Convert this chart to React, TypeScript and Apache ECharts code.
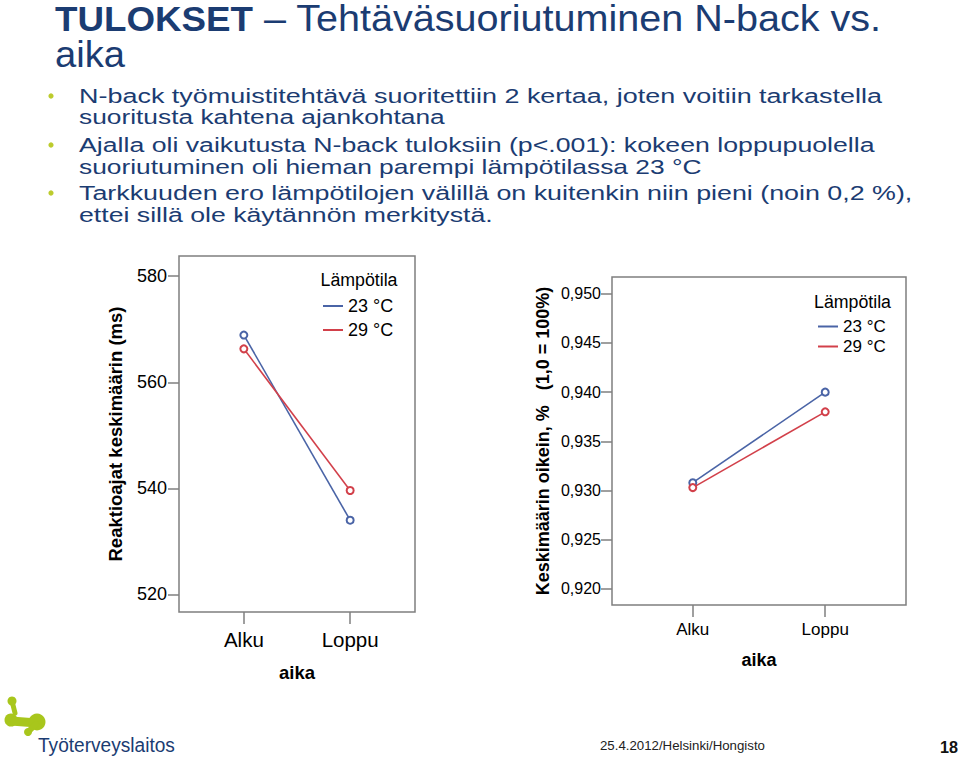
import React, { useEffect, useRef } from 'react';
import * as echarts from 'echarts';

// ---------- data ----------
const categories = ['Alku', 'Loppu'];
const groupNames = ['23 °C', '29 °C'];
const reaction23 = [568.9, 534.0];
const reaction29 = [566.3, 539.6];
const accuracy23 = [0.9308, 0.94];
const accuracy29 = [0.9303, 0.938];
const reactionTicks = [520, 540, 560, 580];
const accuracyTicks = [0.92, 0.925, 0.93, 0.935, 0.94, 0.945, 0.95];
const legendTitle = 'Lämpötila';
const xName = 'aika';
const reactionName = 'Reaktioajat keskimäärin (ms)';
const accuracyName = 'Keskimäärin oikein, %\u00a0\u00a0 (1,0 = 100%)';
const titleBold = 'TULOKSET';
const titleRest = ' – Tehtäväsuoriutuminen N-back vs.';
const titleLine2 = 'aika';
const bulletLines = [
  ['N-back työmuistitehtävä suoritettiin 2 kertaa, joten voitiin tarkastella', 'suoritusta kahtena ajankohtana'],
  ['Ajalla oli vaikutusta N-back tuloksiin (p<.001): kokeen loppupuolella', 'suoriutuminen oli hieman parempi lämpötilassa 23 °C'],
  ['Tarkkuuden ero lämpötilojen välillä on kuitenkin niin pieni (noin 0,2 %),', 'ettei sillä ole käytännön merkitystä.'],
];
const orgName = 'Työterveyslaitos';
const footerText = '25.4.2012/Helsinki/Hongisto';
const pageNumber = '18';

// ---------- layout / style ----------
const FONT = "'Liberation Sans', Arial, Helvetica, sans-serif";
const BLUE = '#4a64a6';
const RED = '#d2404a';
const NAVY = '#1b3c72';
const GREEN = '#a8c61c';
const BULLET = '#bccb2c';
const FRAME = '#7f7f7f';
const bulletWidths = [[803, 366], [796, 623], [834, 414]];
const bulletY = [[96, 117], [145, 167], [193, 215]];

let measureCtx: CanvasRenderingContext2D | null = null;
function fitScale(text: string, size: number, weight: string, target: number) {
  if (!measureCtx) measureCtx = document.createElement('canvas').getContext('2d');
  if (!measureCtx) return 1;
  measureCtx.font = `${weight} ${size}px ${FONT}`;
  const w = measureCtx.measureText(text).width;
  return w > 0 ? target / w : 1;
}

function textEl(text: string, x: number, y: number, size: number, weight: string, color: string, target?: number) {
  const scaleX = target ? fitScale(text, size, weight, target) : 1;
  return {
    type: 'text',
    x,
    y,
    scaleX,
    z: 10,
    style: {
      text,
      fontSize: size,
      fontWeight: weight,
      fontFamily: FONT,
      fill: color,
      align: 'left',
      verticalAlign: 'middle',
      textAlign: 'left',
      textVerticalAlign: 'middle',
    },
  };
}

export default function App() {
  const ref = useRef<HTMLDivElement>(null);

  useEffect(() => {
    document.body.style.margin = '0';
    if (!ref.current) return;
    const chart = echarts.init(ref.current, undefined, { renderer: 'svg' });

    const graphics: any[] = [];
    // title
    graphics.push(textEl(titleBold, 55, 19, 36, 'bold', NAVY, 198));
    graphics.push(textEl(titleRest, 253, 19, 36, 'normal', NAVY, 629));
    graphics.push(textEl(titleLine2, 55, 54, 36, 'normal', NAVY, 70));
    // bullets
    bulletLines.forEach((lines, i) => {
      graphics.push({
        type: 'circle',
        shape: { cx: 51, cy: bulletY[i][0], r: 2.6 },
        style: { fill: BULLET },
        z: 10,
      });
      lines.forEach((line, j) => {
        graphics.push(textEl(line, 79, bulletY[i][j], 21, 'normal', NAVY, bulletWidths[i][j]));
      });
    });
    // legend titles
    graphics.push(textEl(legendTitle, 320.5, 279.5, 18, 'normal', '#000', 77));
    graphics.push(textEl(legendTitle, 814, 302, 18, 'normal', '#000', 77));
    // logo
    const g = { fill: GREEN };
    graphics.push({ type: 'line', shape: { x1: 12, y1: 701, x2: 15, y2: 713 }, style: { stroke: GREEN, lineWidth: 5, lineCap: 'round' } });
    graphics.push({ type: 'circle', shape: { cx: 12, cy: 701, r: 4.5 }, style: g });
    graphics.push({ type: 'circle', shape: { cx: 11, cy: 720, r: 6.5 }, style: g });
    graphics.push({ type: 'line', shape: { x1: 11, y1: 721, x2: 37, y2: 723 }, style: { stroke: GREEN, lineWidth: 9 } });
    graphics.push({ type: 'circle', shape: { cx: 37, cy: 722, r: 8.5 }, style: g });
    graphics.push({ type: 'line', shape: { x1: 36, y1: 724, x2: 28, y2: 732 }, style: { stroke: GREEN, lineWidth: 6, lineCap: 'round' } });
    graphics.push({ type: 'circle', shape: { cx: 28, cy: 732, r: 4 }, style: g });
    graphics.push(textEl(orgName, 38, 745, 21, 'normal', NAVY, 137));
    // footer
    graphics.push(textEl(footerText, 600, 746, 12.5, 'normal', '#222', 165));
    graphics.push(textEl(pageNumber, 940, 747, 17, 'bold', '#111', 18));

    const tickStyle = { color: FRAME, width: 1.5 };

    const xAxisBase = (grid: number, labelSize: number, labelMargin: number, nameSize: number, nameGap: number) => ({
      type: 'value',
      gridIndex: grid,
      min: -0.61,
      max: 1.61,
      axisLine: { show: false, onZero: false },
      splitLine: { show: false },
      axisTick: { show: true, customValues: [0, 1], length: 12, lineStyle: tickStyle },
      axisLabel: {
        customValues: [0, 1],
        formatter: (v: number) => categories[Math.round(v)] ?? '',
        fontSize: labelSize,
        margin: labelMargin,
        color: '#000',
        fontFamily: FONT,
      },
      name: xName,
      nameLocation: 'middle',
      nameGap,
      nameTextStyle: { fontWeight: 'bold', fontSize: nameSize, color: '#000', fontFamily: FONT },
    });

    const option: any = {
      animation: false,
      backgroundColor: '#ffffff',
      grid: [
        { left: 179, top: 256, width: 236, height: 356, show: true, borderColor: FRAME, borderWidth: 1.5, backgroundColor: 'transparent' },
        { left: 612, top: 277, width: 294, height: 328, show: true, borderColor: FRAME, borderWidth: 1.5, backgroundColor: 'transparent' },
      ],
      xAxis: [xAxisBase(0, 20.5, 17, 18.5, 51), xAxisBase(1, 17, 16, 18, 46)],
      yAxis: [
        {
          type: 'value',
          gridIndex: 0,
          min: 516.7,
          max: 583.8,
          axisLine: { show: false, onZero: false },
          splitLine: { show: false },
          axisTick: { show: true, customValues: reactionTicks, length: 11, lineStyle: tickStyle },
          axisLabel: { customValues: reactionTicks, fontSize: 18, margin: 12, color: '#000', fontFamily: FONT },
          name: reactionName,
          nameLocation: 'middle',
          nameGap: 54,
          nameTextStyle: { fontWeight: 'bold', fontSize: 18.5, color: '#000', fontFamily: FONT },
        },
        {
          type: 'value',
          gridIndex: 1,
          min: 0.91837,
          max: 0.9517,
          axisLine: { show: false, onZero: false },
          splitLine: { show: false },
          axisTick: { show: true, customValues: accuracyTicks, length: 11, lineStyle: tickStyle },
          axisLabel: {
            customValues: accuracyTicks,
            formatter: (v: number) => v.toFixed(3).replace('.', ','),
            fontSize: 16,
            margin: 11,
            color: '#000',
            fontFamily: FONT,
          },
          name: accuracyName,
          nameLocation: 'middle',
          nameGap: 60,
          nameTextStyle: { fontWeight: 'bold', fontSize: 18, color: '#000', fontFamily: FONT },
        },
      ],
      legend: [
        {
          data: groupNames,
          orient: 'vertical',
          left: 323,
          top: 294,
          padding: 0,
          icon: 'rect',
          itemWidth: 20,
          itemHeight: 2,
          itemGap: 0,
          selectedMode: false,
          textStyle: { fontSize: 18, lineHeight: 24, color: '#000', fontFamily: FONT },
        },
        {
          data: groupNames,
          orient: 'vertical',
          left: 818,
          top: 316.5,
          padding: 0,
          icon: 'rect',
          itemWidth: 20,
          itemHeight: 2,
          itemGap: 0,
          selectedMode: false,
          textStyle: { fontSize: 17, lineHeight: 20, color: '#000', fontFamily: FONT },
        },
      ],
      series: [
        { name: groupNames[0], data: reaction23, color: BLUE, xAxisIndex: 0, yAxisIndex: 0 },
        { name: groupNames[1], data: reaction29, color: RED, xAxisIndex: 0, yAxisIndex: 0 },
        { name: groupNames[0], data: accuracy23, color: BLUE, xAxisIndex: 1, yAxisIndex: 1 },
        { name: groupNames[1], data: accuracy29, color: RED, xAxisIndex: 1, yAxisIndex: 1 },
      ].map((s) => ({
        type: 'line',
        name: s.name,
        xAxisIndex: s.xAxisIndex,
        yAxisIndex: s.yAxisIndex,
        data: s.data.map((v, i) => [i, v]),
        symbol: 'emptyCircle',
        symbolSize: 7,
        lineStyle: { color: s.color, width: 1.6 },
        itemStyle: { color: s.color, borderWidth: 1.2 },
        emphasis: { disabled: true },
      })),
      graphic: graphics,
    };

    chart.setOption(option);
    return () => chart.dispose();
  }, []);

  return <div ref={ref} style={{ width: 960, height: 762 }} />;
}
